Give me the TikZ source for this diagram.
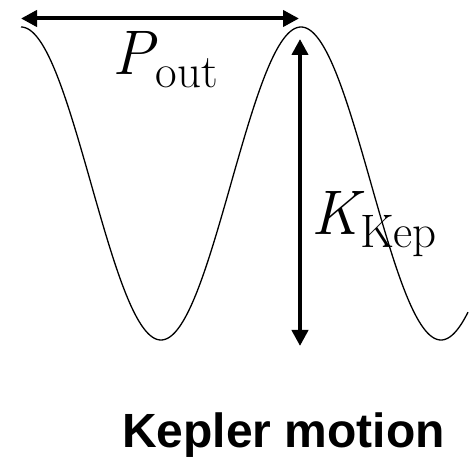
\documentclass[tikz,border=0pt]{standalone}
\usepackage{fontspec}
\setsansfont{Liberation Sans}
\usetikzlibrary{arrows.meta}
\newcommand{\symsub}[2]{{\itshape #1}\kern1.5pt\raisebox{-13pt}{\fontsize{47}{52}\selectfont\upshape #2}}
\tikzset{
  dimarrow/.style={line width=4pt,{Triangle[length=16pt,width=16pt]}-{Triangle[length=16pt,width=16pt]}},
  wave/.style={line width=1.3pt,black},
  mathlabel/.style={inner sep=0pt,font=\fontsize{63}{70}\selectfont},
  caption/.style={inner sep=0pt,font=\sffamily\bfseries\fontsize{48}{56}\selectfont}
}
\begin{document}
\begin{tikzpicture}[x=1pt,y=-1pt]
\useasboundingbox (0,0) rectangle (474,462);
% sine wave
\draw[wave] plot[domain=21:468,samples=300] (\x,{183.5-156.5*cos(1.285714*(\x-21))});
% arrows
\coordinate (hl) at (21,18.5);
\coordinate (hr) at (299,18.5);
\coordinate (vt) at (300,39);
\coordinate (vb) at (300,346);
\draw[dimarrow] (hl) -- (hr);
\draw[dimarrow] (vt) -- (vb);
% labels
\node[mathlabel,anchor=base west] (pout) at (112,75) {\symsub{P}{out}};
\node[mathlabel,anchor=base west] (kkep) at (311,235) {\symsub{K}{Kep}};
\node[caption,anchor=base] (cap) at (283.5,447) {Kepler motion};
\end{tikzpicture}
\end{document}
